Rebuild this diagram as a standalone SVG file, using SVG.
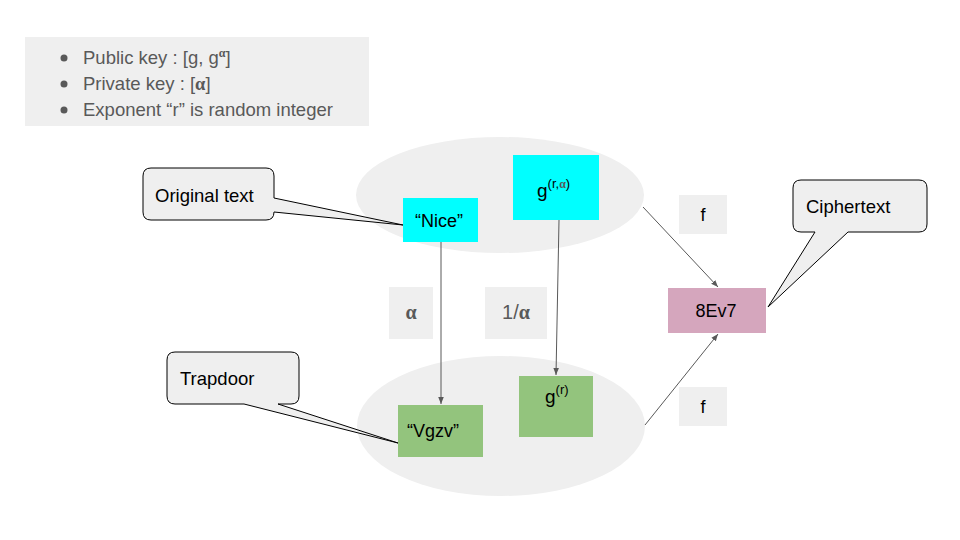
<svg xmlns="http://www.w3.org/2000/svg" width="960" height="540" viewBox="0 0 960 540">
<style>
.t{font-family:"Liberation Sans",Arial,sans-serif;fill:#000}
.g{font-family:"Liberation Sans",Arial,sans-serif;fill:#595959}
.a{font-family:"Liberation Serif","Times New Roman",serif;font-weight:bold;fill:#595959}
.lbl{fill:#efefef}
.call{fill:#efefef;stroke:#000;stroke-width:1}
.conn{stroke:#595959;stroke-width:1;fill:none}
</style>
<defs>
<marker id="ah" viewBox="0 0 10 10" refX="10" refY="5" markerWidth="7" markerHeight="7" orient="auto" markerUnits="userSpaceOnUse">
<path d="M0,1 L10,5 L0,9 z" fill="#595959"/>
</marker>
</defs>
<rect width="960" height="540" fill="#fff"/>
<g id="legend">
<rect x="25" y="37" width="344" height="89" fill="#efefef"/>
<circle cx="64" cy="58" r="3.5" fill="#595959"/>
<circle cx="64" cy="84" r="3.5" fill="#595959"/>
<circle cx="64" cy="110" r="3.5" fill="#595959"/>
<text class="g" x="83" y="64" font-size="18.5">Public key : [g, g<tspan font-size="12" dy="-7" class="a">α</tspan><tspan dy="7">]</tspan></text>
<text class="g" x="83" y="90" font-size="18.5">Private key : [<tspan class="a">α</tspan>]</text>
<text class="g" x="83" y="116" font-size="18.5">Exponent “r” is random integer</text>
</g>
<g id="ellipse-top"><ellipse cx="500" cy="195" rx="144" ry="58" fill="#efefef"/></g>
<g id="ellipse-bottom"><ellipse cx="501" cy="426" rx="144" ry="70" fill="#efefef"/></g>
<g id="connectors">
<line class="conn" x1="441" y1="242" x2="441" y2="404" marker-end="url(#ah)"/>
<line class="conn" x1="559" y1="220" x2="556" y2="375" marker-end="url(#ah)"/>
<line class="conn" x1="643" y1="207" x2="718" y2="287" marker-end="url(#ah)"/>
<line class="conn" x1="645" y1="425" x2="718" y2="334" marker-end="url(#ah)"/>
</g>
<g id="nice">
<rect x="403" y="198" width="75" height="44" fill="#00ffff"/>
<text class="t" x="439" y="227" font-size="18" text-anchor="middle">“Nice”</text>
</g>
<g id="g-r-alpha">
<rect x="513" y="155" width="86" height="65" fill="#00ffff"/>
<text class="t" x="537" y="197" font-size="19">g<tspan font-size="13" dy="-9">(r,</tspan><tspan font-size="12" class="a" fill="#4a7a7a">α</tspan><tspan font-size="13">)</tspan></text>
</g>
<g id="label-alpha">
<rect class="lbl" x="389" y="287" width="44" height="52"/>
<text class="a" x="411" y="319" font-size="20" text-anchor="middle">α</text>
</g>
<g id="label-inv-alpha">
<rect class="lbl" x="485" y="287" width="62" height="52"/>
<text class="g" x="516" y="319" font-size="20" text-anchor="middle">1/<tspan class="a">α</tspan></text>
</g>
<g id="vgzv">
<rect x="398" y="405" width="85" height="52" fill="#93c47d"/>
<text class="t" x="433" y="437" font-size="18" text-anchor="middle">“Vgzv”</text>
</g>
<g id="g-r">
<rect x="519" y="376" width="74" height="61" fill="#93c47d"/>
<text class="t" x="545" y="403" font-size="19">g<tspan font-size="13" dy="-9">(r)</tspan></text>
</g>
<g id="f-top">
<rect class="lbl" x="679" y="195" width="48" height="39"/>
<text class="t" x="703" y="221" font-size="18" text-anchor="middle">f</text>
</g>
<g id="f-bottom">
<rect class="lbl" x="679" y="387" width="48" height="39"/>
<text class="t" x="703" y="413" font-size="18" text-anchor="middle">f</text>
</g>
<g id="ciphertext-node">
<rect x="668" y="288" width="98" height="45" fill="#d5a6bd"/>
<text class="t" x="716" y="317" font-size="18" text-anchor="middle">8Ev7</text>
</g>
<g id="callout-original">
<path class="call" d="M151,168 H266 Q274,168 274,176 V198 L403,225 L274,212 Q274,220 266,220 H151 Q143,220 143,212 V176 Q143,168 151,168 Z"/>
<text class="t" x="155" y="202" font-size="18.5">Original text</text>
</g>
<g id="callout-trapdoor">
<path class="call" d="M175,352 H291 Q299,352 299,360 V396 Q299,404 291,404 H278 L398,443 L244,404 H175 Q167,404 167,396 V360 Q167,352 175,352 Z"/>
<text class="t" x="180" y="385" font-size="18.5">Trapdoor</text>
</g>
<g id="callout-ciphertext">
<path class="call" d="M801,180 H919 Q927,180 927,188 V224 Q927,232 919,232 H848 L768,307 L815,232 H801 Q793,232 793,224 V188 Q793,180 801,180 Z"/>
<text class="t" x="806" y="213" font-size="18.5">Ciphertext</text>
</g>
</svg>
